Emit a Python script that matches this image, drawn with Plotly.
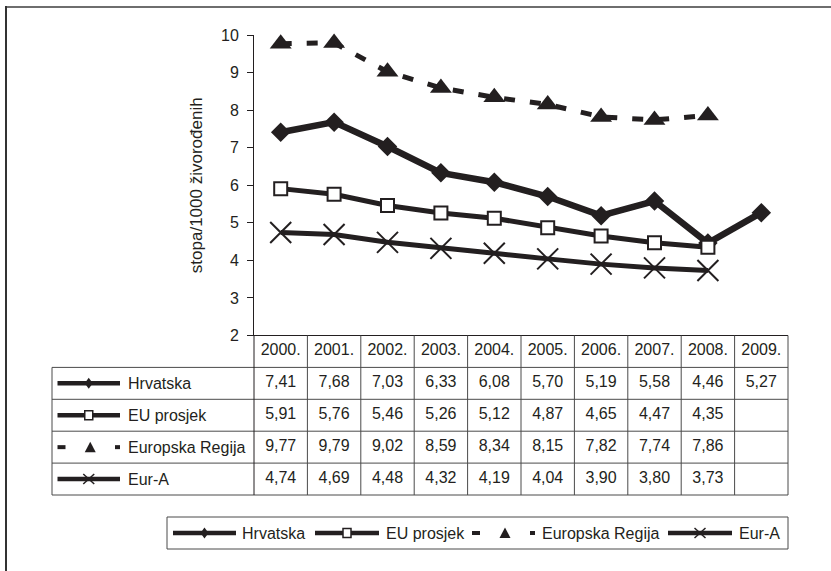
import plotly.graph_objects as go

# ---------------- data ----------------
years = ["2000.", "2001.", "2002.", "2003.", "2004.", "2005.", "2006.", "2007.", "2008.", "2009."]
series_names = ["Hrvatska", "EU prosjek", "Europska Regija", "Eur-A"]
hrvatska = [7.41, 7.68, 7.03, 6.33, 6.08, 5.70, 5.19, 5.58, 4.46, 5.27]
eu_prosjek = [5.91, 5.76, 5.46, 5.26, 5.12, 4.87, 4.65, 4.47, 4.35]
europska_regija = [9.77, 9.79, 9.02, 8.59, 8.34, 8.15, 7.82, 7.74, 7.86]
eur_a = [4.74, 4.69, 4.48, 4.32, 4.19, 4.04, 3.90, 3.80, 3.73]
y_title = "stopa/1000 živorođenih"

series_values = [hrvatska, eu_prosjek, europska_regija, eur_a]

# ---------------- geometry helpers ----------------
W, H = 831, 571
INK = "#231f20"
GRID = "#4a4a4a"
FONT = "Liberation Sans, Arial, Helvetica, sans-serif"


def px(x):
    return x / W


def py(y):
    return 1 - y / H


PLOT_L, PLOT_R = 254, 788
PLOT_T, PLOT_B = 35, 335.5
TAB_B = 495
LABEL_L = 52
n_cols = len(years)
col_w = (PLOT_R - PLOT_L) / n_cols
row_h = (TAB_B - PLOT_B) / 5

fig = go.Figure()

styles = [
    dict(line=dict(color=INK, width=6.5), marker=dict(symbol="diamond", size=15, color=INK)),
    dict(line=dict(color=INK, width=5), marker=dict(symbol="square", size=13, color="white",
                                                     line=dict(color=INK, width=2))),
    dict(line=dict(color=INK, width=5, dash="11px,15px"),
         marker=dict(symbol="triangle-up", size=19, color=INK)),
    dict(line=dict(color=INK, width=5), marker=dict(symbol="x-thin", size=21, color=INK,
                                                     line=dict(color=INK, width=2))),
]

for name, vals, st in zip(series_names, series_values, styles):
    fig.add_trace(go.Scatter(
        x=years[:len(vals)], y=vals, name=name, mode="lines+markers",
        line=st["line"], marker=st["marker"], cliponaxis=False, showlegend=False,
        hoverinfo="x+y+name",
    ))

txt_font = dict(family=FONT, size=16, color=INK)

# table text (header + values) placed through the x axis and the table axis y2
fig.add_trace(go.Scatter(
    x=years, y=[0] * len(years), text=years, mode="text", xaxis="x", yaxis="y2",
    textfont=txt_font, textposition="middle center", cliponaxis=False,
    hoverinfo="skip", showlegend=False,
))
for i, vals in enumerate(series_values):
    fig.add_trace(go.Scatter(
        x=years[:len(vals)], y=[i + 1] * len(vals),
        text=[f"{v:.2f}".replace(".", ",") for v in vals],
        mode="text", xaxis="x", yaxis="y2", textfont=txt_font,
        textposition="middle center", cliponaxis=False, hoverinfo="skip", showlegend=False,
    ))

shapes = []
annotations = []


def hline(y, x0, x1, color=GRID, width=1):
    shapes.append(dict(type="line", xref="paper", yref="paper", x0=px(x0), x1=px(x1),
                       y0=py(y), y1=py(y), line=dict(color=color, width=width)))


def vline(x, y0, y1, color=GRID, width=1):
    shapes.append(dict(type="line", xref="paper", yref="paper", x0=px(x), x1=px(x),
                       y0=py(y0), y1=py(y1), line=dict(color=color, width=width)))


def poly(points, fill=INK, lc=INK, lw=0):
    path = "M" + " L".join(f"{px(x):.6f},{py(y):.6f}" for x, y in points) + " Z"
    shapes.append(dict(type="path", xref="paper", yref="paper", path=path,
                       fillcolor=fill, line=dict(color=lc, width=lw)))


def rect(x0, y0, x1, y1, fill=INK, lc=INK, lw=0):
    shapes.append(dict(type="rect", xref="paper", yref="paper", x0=px(x0), x1=px(x1),
                       y0=py(y0), y1=py(y1), fillcolor=fill, line=dict(color=lc, width=lw)))


def sample(kind, x0, x1, yc):
    xc = (x0 + x1) / 2
    if kind == 2:
        rect(x0, yc - 2, x0 + 8, yc + 2)
        poly([(xc + 1.5 - 5.5, yc + 5), (xc + 1.5 + 5.5, yc + 5), (xc + 1.5, yc - 5.5)])
        rect(x1 - 5, yc - 2, x1, yc + 2)
        return
    shapes.append(dict(type="line", xref="paper", yref="paper", x0=px(x0), x1=px(x1),
                       y0=py(yc), y1=py(yc), line=dict(color=INK, width=4.5)))
    if kind == 0:
        poly([(xc - 4, yc), (xc, yc - 5.5), (xc + 4, yc), (xc, yc + 5.5)])
    elif kind == 1:
        rect(xc - 4, yc - 4.5, xc + 4, yc + 4.5, fill="white", lc=INK, lw=1.5)
    elif kind == 3:
        for dx in (-1, 1):
            shapes.append(dict(type="line", xref="paper", yref="paper",
                               x0=px(xc - 5.5), x1=px(xc + 5.5),
                               y0=py(yc - 5 * dx), y1=py(yc + 5 * dx),
                               line=dict(color=INK, width=1.5)))


# ---------------- data table grid ----------------
hline(PLOT_B, PLOT_L, PLOT_R, color=INK)
for r in range(1, 6):
    hline(PLOT_B + r * row_h, LABEL_L, PLOT_R)
vline(LABEL_L, PLOT_B + row_h, TAB_B)
vline(PLOT_L, PLOT_B, TAB_B, color=INK)
for c in range(1, n_cols + 1):
    vline(PLOT_L + c * col_w, PLOT_B, TAB_B)

for i, name in enumerate(series_names):
    row = i + 1
    annotations.append(dict(x=px(125.5), y=row, xref="paper", yref="y2", text=name,
                            showarrow=False, font=txt_font, xanchor="left", yanchor="middle"))
    sample(i, 57.5, 120, PLOT_B + (row + 0.5) * row_h)

# ---------------- legend ----------------
LEG_T, LEG_B = 517, 549
rect(167, LEG_T, 788, LEG_B, fill="white", lc=GRID, lw=1)
leg_y = (LEG_T + LEG_B) / 2
leg_items = [(173, 236, 240), (315, 379, 384), (472, 535, 540), (668, 732, 737)]
for i, (name, (s0, s1, tx)) in enumerate(zip(series_names, leg_items)):
    sample(i, s0, s1, leg_y)
    annotations.append(dict(x=px(tx), y=py(leg_y), xref="paper", yref="paper", text=name,
                            showarrow=False, font=txt_font, xanchor="left", yanchor="middle"))

# ---------------- outer frame (top & left edges visible) ----------------
shapes.append(dict(type="line", xref="paper", yref="paper", x0=px(6), x1=px(840),
                   y0=py(7), y1=py(7), line=dict(color="#6e6e6e", width=2)))
shapes.append(dict(type="line", xref="paper", yref="paper", x0=px(6), x1=px(6),
                   y0=py(6), y1=py(580), line=dict(color="#333333", width=2)))

fig.update_layout(
    width=W, height=H,
    margin=dict(l=0, r=0, t=0, b=0),
    paper_bgcolor="white", plot_bgcolor="white",
    font=dict(family=FONT, color=INK),
    showlegend=False,
    xaxis=dict(domain=[px(PLOT_L), px(PLOT_R)], type="category", categoryorder="array",
               categoryarray=years, range=[-0.5, 9.5], showticklabels=False, ticks="",
               showline=False, showgrid=False, zeroline=False, anchor="y", fixedrange=True),
    yaxis=dict(domain=[py(PLOT_B), py(PLOT_T)], range=[2, 10], tick0=2, dtick=1,
               ticks="outside", ticklen=6, tickwidth=1, tickcolor=INK,
               showline=True, linecolor=INK, linewidth=1, showgrid=False, zeroline=False,
               tickfont=dict(family=FONT, size=16, color=INK), ticklabelstandoff=5,
               title=dict(text=y_title, font=dict(family=FONT, size=17, color=INK), standoff=14),
               automargin=False, anchor="x", fixedrange=True),
    yaxis2=dict(domain=[py(TAB_B), py(PLOT_B)], range=[4.5, -0.5], visible=False,
                anchor="x", fixedrange=True),
    shapes=shapes,
    annotations=annotations,
)

fig.write_html(
    "out.html",
    config={"displayModeBar": False},
    post_script="document.body.style.margin='0';document.body.style.padding='0';",
)
